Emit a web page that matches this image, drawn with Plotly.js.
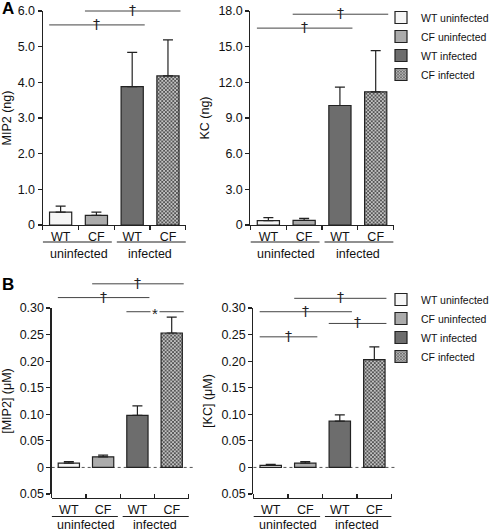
<!DOCTYPE html>
<html>
<head>
<meta charset="utf-8">
<script src="https://cdn.plot.ly/plotly-3.0.1.min.js"></script>
<style>
  html, body { margin: 0; padding: 0; background: #ffffff; }
  #chart { width: 494px; height: 532px; }
</style>
</head>
<body>
<div id="chart"></div>
<script>
// ---- data ----
const seriesNames = ["WT uninfected", "CF uninfected", "WT infected", "CF infected"];
const genotypeLabels = ["WT", "CF", "WT", "CF"];
const groupLabels = ["uninfected", "infected"];

const mip2Ng      = [0.36, 0.27, 3.88, 4.18];
const mip2NgErr   = [0.17, 0.09, 0.96, 1.01];
const kcNg        = [0.36, 0.39, 10.05, 11.2];
const kcNgErr     = [0.26, 0.17, 1.55, 3.46];
const mip2uM      = [0.008, 0.020, 0.098, 0.253];
const mip2uMErr   = [0.003, 0.003, 0.018, 0.030];
const kcuM        = [0.004, 0.008, 0.087, 0.203];
const kcuMErr     = [0.002, 0.003, 0.012, 0.024];

const mip2NgTicks = [0, 1, 2, 3, 4, 5, 6];
const mip2NgTickText = ["0", "1.0", "2.0", "3.0", "4.0", "5.0", "6.0"];
const kcNgTicks = [0, 3, 6, 9, 12, 15, 18];
const kcNgTickText = ["0", "3.0", "6.0", "9.0", "12.0", "15.0", "18.0"];
const uMTicks = [-0.05, 0, 0.05, 0.10, 0.15, 0.20, 0.25, 0.30];
const uMTickText = ["0.05", "0", "0.05", "0.10", "0.15", "0.20", "0.25", "0.30"];

// significance comparisons: [fromIndex, toIndex, mark]
const sigMip2Ng = [[0, 2, "†"], [1, 3, "†"]];
const sigKcNg   = [[0, 2, "†"], [1, 3, "†"]];
const sigMip2uM = [[0, 2, "†"], [1, 3, "†"], [2, 3, "*"]];
const sigKcuM   = [[0, 1, "†"], [0, 2, "†"], [1, 3, "†"], [2, 3, "†"]];

// ---- styling ----
const FONT = "Liberation Sans, Arial, Helvetica, sans-serif";
const INK = "#222222";
const fills = ["#f6f6f6", "#ababab", "#6d6d6d", "#939393"];
const patterns = [null, null, null, {shape: "x", size: 2.6, solidity: 0.5, fgcolor: "#3f3f3f", bgcolor: "#c2c2c2"}];

const panels = [
  {xa: "x",  ya: "y",  vals: mip2Ng, errs: mip2NgErr, legend: "legend",  showLegend: true,
   sig: sigMip2Ng, sigLevels: [0.935, 1.0], lineFrac: 1 - 242/532, groupFrac: 1 - 254/532},
  {xa: "x2", ya: "y2", vals: kcNg,   errs: kcNgErr,   legend: "legend",  showLegend: false,
   sig: sigKcNg, sigLevels: [0.92, 0.985], lineFrac: 1 - 242/532, groupFrac: 1 - 254/532},
  {xa: "x3", ya: "y3", vals: mip2uM, errs: mip2uMErr, legend: "legend2", showLegend: true,
   sig: sigMip2uM, sigLevels: [1.056, 1.13, 0.98], lineFrac: 1 - 516.5/532, groupFrac: 1 - 524.5/532},
  {xa: "x4", ya: "y4", vals: kcuM,   errs: kcuMErr,   legend: "legend2", showLegend: false,
   sig: sigKcuM, sigLevels: [0.845, 0.98, 1.052, 0.917], lineFrac: 1 - 516.5/532, groupFrac: 1 - 524.5/532}
];

const traces = [];
panels.forEach(p => {
  seriesNames.forEach((name, i) => {
    const marker = {color: fills[i], line: {color: INK, width: 1.2}};
    if (patterns[i]) marker.pattern = patterns[i];
    traces.push({
      type: "bar",
      name: name,
      x: [i],
      y: [p.vals[i]],
      width: 0.62,
      xaxis: p.xa,
      yaxis: p.ya,
      marker: marker,
      error_y: {type: "data", symmetric: false, array: [p.errs[i]], arrayminus: [0],
                color: INK, thickness: 1.2, width: 5},
      showlegend: p.showLegend,
      legend: p.legend,
      hoverinfo: "skip"
    });
  });
});

function xAxis(domain, anchor, extra) {
  return Object.assign({
    domain: domain, anchor: anchor, range: [-0.5, 3.5],
    tickmode: "array", tickvals: [0, 1, 2, 3], ticktext: genotypeLabels,
    ticks: "", showline: true, linecolor: INK, linewidth: 1.2,
    showgrid: false, zeroline: false, fixedrange: true,
    tickfont: {family: FONT, size: 12.5, color: "#111"},
    minor: {tickmode: "array", tickvals: [-0.5, 0.5, 1.5, 2.5, 3.5], ticks: "outside",
            ticklen: 4, tickwidth: 1.2, tickcolor: INK, showgrid: false}
  }, extra || {});
}
function yAxis(domain, anchor, range, vals, text, title, extra) {
  return Object.assign({
    domain: domain, anchor: anchor, range: range,
    tickmode: "array", tickvals: vals, ticktext: text,
    ticks: "outside", ticklen: 4, tickwidth: 1.2, tickcolor: INK,
    showline: true, linecolor: INK, linewidth: 1.2,
    showgrid: false, zeroline: false, fixedrange: true,
    tickfont: {family: FONT, size: 12.5, color: "#111"},
    title: {text: title, font: {family: FONT, size: 12.5, color: "#111"}, standoff: 6}
  }, extra || {});
}

const topY = [1 - 225/532, 1 - 11/532];
const botY = [1 - 494/532, 1 - 308/532];
const bottomMinor = {tickmode: "array", tickvals: [-0.5, 0.5, 1.5, 2.5, 3.5], ticks: "inside",
                     ticklen: 4, tickwidth: 1.2, tickcolor: INK, showgrid: false};

const layout = {
  width: 494, height: 532,
  margin: {l: 0, r: 0, t: 0, b: 0},
  paper_bgcolor: "#ffffff", plot_bgcolor: "rgba(0,0,0,0)",
  font: {family: FONT, color: "#111"},
  barmode: "overlay",
  xaxis:  xAxis([43/494, 187/494], "y"),
  yaxis:  yAxis(topY, "x", [0, 6], mip2NgTicks, mip2NgTickText, "MIP2 (ng)"),
  xaxis2: xAxis([252/494, 396/494], "y2"),
  yaxis2: yAxis(topY, "x2", [0, 18], kcNgTicks, kcNgTickText, "KC (ng)"),
  xaxis3: xAxis([52/494, 190/494], "free", {position: 1 - 498/532, minor: bottomMinor}),
  yaxis3: yAxis(botY, "x3", [-0.05, 0.30], uMTicks, uMTickText, "[MIP2] (μM)"),
  xaxis4: xAxis([255/494, 394/494], "free", {position: 1 - 498/532, minor: bottomMinor}),
  yaxis4: yAxis(botY, "x4", [-0.05, 0.30], uMTicks, uMTickText, "[KC] (μM)"),
  legend: {x: 0.776, xanchor: "left", y: 1 - 3/532, yanchor: "top",
           font: {family: FONT, size: 10.5, color: "#111"}, bgcolor: "rgba(0,0,0,0)",
           traceorder: "normal", itemclick: false, itemdoubleclick: false},
  legend2: {x: 0.776, xanchor: "left", y: 1 - 285/532, yanchor: "top",
           font: {family: FONT, size: 10.5, color: "#111"}, bgcolor: "rgba(0,0,0,0)",
           traceorder: "normal", itemclick: false, itemdoubleclick: false},
  shapes: [],
  annotations: []
};

// panel letters
layout.annotations.push({xref: "paper", yref: "paper", x: 0, y: 1 - 9/532, xanchor: "left", yanchor: "middle",
  text: "<b>A</b>", showarrow: false, font: {family: FONT, size: 17, color: "#000"}});
layout.annotations.push({xref: "paper", yref: "paper", x: 0, y: 1 - 284/532, xanchor: "left", yanchor: "middle",
  text: "<b>B</b>", showarrow: false, font: {family: FONT, size: 17, color: "#000"}});

panels.forEach(p => {
  const yd = p.ya + " domain";
  // zero reference line for bottom panels
  if (p.xa === "x3" || p.xa === "x4") {
    layout.shapes.push({type: "line", xref: p.xa + " domain", yref: p.ya, x0: 0, x1: 1.04, y0: 0, y1: 0,
      layer: "below", line: {color: "#555", width: 1, dash: "dot"}});
  }
  // group underlines and labels
  const spans = [[-0.5, 1.43], [1.57, 3.5]];
  groupLabels.forEach((g, k) => {
    layout.shapes.push({type: "line", xref: p.xa, yref: "paper", x0: spans[k][0], x1: spans[k][1],
      y0: p.lineFrac, y1: p.lineFrac, line: {color: INK, width: 1.2}});
    layout.annotations.push({xref: p.xa, yref: "paper", x: 0.5 + 2 * k, y: p.groupFrac,
      xanchor: "center", yanchor: "middle", text: g, showarrow: false, borderpad: 0,
      font: {family: FONT, size: 12.5, color: "#111"}});
  });
  // significance brackets
  p.sig.forEach((s, k) => {
    const x0 = s[0] - 0.32, x1 = s[1] + 0.35, lev = p.sigLevels[k];
    layout.shapes.push({type: "line", xref: p.xa, yref: yd, x0: x0, x1: x1, y0: lev, y1: lev,
      line: {color: "#444", width: 1}});
    const isStar = s[2] === "*";
    layout.annotations.push({xref: p.xa, yref: yd, x: (x0 + x1) / 2, y: lev,
      xanchor: "center", yanchor: "middle", text: s[2], showarrow: false,
      bgcolor: isStar ? "#ffffff" : "rgba(0,0,0,0)", borderpad: isStar ? 1 : 0,
      yshift: isStar ? -2 : 1,
      font: {family: isStar ? FONT : "DejaVu Sans, " + FONT, size: isStar ? 15 : 14, color: "#222"}});
  });
});

Plotly.newPlot("chart", traces, layout, {staticPlot: true, displayModeBar: false});
</script>
</body>
</html>
